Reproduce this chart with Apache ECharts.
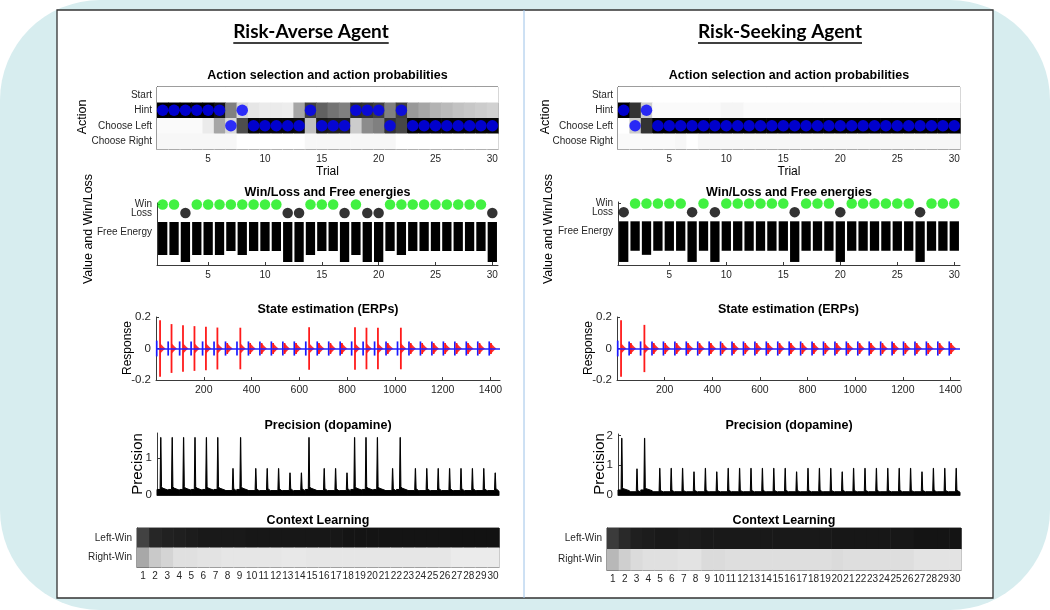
<!DOCTYPE html>
<html><head><meta charset="utf-8">
<script src="https://cdn.jsdelivr.net/npm/echarts@6/dist/echarts.min.js"></script>
<style>html,body{margin:0;padding:0;background:#fff}#c{width:1050px;height:610px}</style>
</head><body><div id="c"></div><script>
// ---------------- DATA ----------------
const trials = [1,2,3,4,5,6,7,8,9,10,11,12,13,14,15,16,17,18,19,20,21,22,23,24,25,26,27,28,29,30];
const trialTicks = [5,10,15,20,25,30];
const sampleTicks = [200,400,600,800,1000,1200,1400];
const erpTicks = [-0.2,0,0.2];
const actionNames = ['Start','Hint','Choose Left','Choose Right'];
const outcomeNames = ['Win','Loss','Free Energy'];
const contextNames = ['Left-Win','Right-Win'];
const samplesPerTrial = 48;
const sampleCount = 1440;
const blueLag = 3;

// Risk-averse agent
const averseStart = [0,0,0,0,0,0,0,0,0,0,0,0,0,0,0,0,0,0,0,0,0,0,0,0,0,0,0,0,0,0];
const averseHint  = [1,1,1,1,1,0.92,0.5,0.15,0.1,0.08,0.08,0.07,0.35,0.75,0.62,0.55,0.5,0.82,0.8,0.75,0.5,0.75,0.4,0.35,0.3,0.27,0.24,0.22,0.2,0.18];
const averseLeft  = [0.02,0.02,0.02,0.02,0.08,0.35,0.15,0.7,0.97,0.97,0.97,0.97,0.95,0.25,0.9,0.88,0.88,0.2,0.45,0.5,0.8,0.72,0.98,0.98,0.98,0.98,0.98,0.98,0.98,0.98];
const averseRight = [0.03,0.03,0.03,0.03,0.03,0.03,0.03,0,0,0,0,0,0,0.03,0.03,0.03,0.03,0.03,0.03,0.03,0.03,0,0,0,0,0,0,0,0,0];
const averseChoice = ['Hint','Hint','Hint','Hint','Hint','Hint','Choose Left','Hint','Choose Left','Choose Left','Choose Left','Choose Left','Choose Left','Hint','Choose Left','Choose Left','Choose Left','Hint','Hint','Hint','Choose Left','Hint','Choose Left','Choose Left','Choose Left','Choose Left','Choose Left','Choose Left','Choose Left','Choose Left'];
const averseOutcome = ['Win','Win','Loss','Win','Win','Win','Win','Win','Win','Win','Win','Loss','Loss','Win','Win','Win','Loss','Win','Loss','Loss','Win','Win','Win','Win','Win','Win','Win','Win','Win','Loss'];
const averseFreeEnergy = [-3.3,-3.3,-4.0,-3.3,-3.3,-3.3,-2.9,-3.3,-2.9,-2.9,-2.9,-4.0,-4.0,-3.3,-2.9,-2.9,-4.0,-3.3,-4.0,-4.0,-2.9,-3.3,-2.9,-2.9,-2.9,-2.9,-2.9,-2.9,-2.9,-4.0];
const averseErpBlue = [0.05,0.045,0.045,0.045,0.045,0.045,0.045,0.045,0.045,0.045,0.045,0.045,0.045,0.045,0.045,0.045,0.045,0.045,0.045,0.045,0.045,0.045,0.045,0.045,0.045,0.045,0.045,0.045,0.045,0.045];
const averseErpRedTime = [17,65,113,161,209,257,298,353,394,442,490,538,586,641,682,730,778,833,881,929,970,1025,1066,1114,1162,1210,1258,1306,1354,1402];
const averseErpRed = [0.18,0.155,0.148,0.142,0.138,0.133,0.035,0.132,0.035,0.035,0.035,0.035,0.035,0.135,0.035,0.035,0.035,0.135,0.132,0.132,0.035,0.132,0.035,0.035,0.035,0.035,0.035,0.035,0.035,0.035];
const averseErpRipple = [0.035,0.035,0.035,0.035,0.035,0.035,0.035,0.035,0.035,0.035,0.035,0.035,0.035,0.035,0.035,0.035,0.035,0.035,0.035,0.035,0.035,0.035,0.035,0.035,0.035,0.035,0.035,0.035,0.035,0.035];
const aversePrecTime = [16,64,112,160,208,256,320,352,416,464,512,560,608,640,704,752,800,832,880,928,992,1024,1088,1136,1184,1232,1280,1328,1376,1424];
const aversePrec = [1.56,1.56,1.56,1.56,1.56,1.56,0.72,1.56,0.72,0.72,0.72,0.6,0.6,1.56,0.72,0.72,0.6,1.56,1.56,1.56,0.72,1.56,0.72,0.72,0.72,0.72,0.72,0.72,0.72,0.6];
const aversePrecFloor = [0.15,0.15,0.15,0.15,0.15,0.15,0.12,0.15,0.12,0.12,0.12,0.12,0.12,0.15,0.12,0.12,0.12,0.15,0.15,0.15,0.12,0.15,0.12,0.12,0.12,0.12,0.12,0.12,0.12,0.12];
const averseCtxLeft  = [0.74,0.85,0.87,0.88,0.89,0.9,0.9,0.9,0.9,0.91,0.91,0.91,0.91,0.91,0.91,0.91,0.91,0.92,0.92,0.92,0.92,0.92,0.92,0.92,0.92,0.92,0.93,0.93,0.93,0.93];
const averseCtxRight = [0.34,0.21,0.17,0.12,0.12,0.11,0.11,0.1,0.1,0.1,0.1,0.1,0.09,0.09,0.1,0.1,0.1,0.1,0.1,0.1,0.1,0.1,0.1,0.1,0.1,0.1,0.08,0.08,0.08,0.08];

// Risk-seeking agent
const seekingStart = [0,0,0,0,0,0,0,0,0,0,0,0,0,0,0,0,0,0,0,0,0,0,0,0,0,0,0,0,0,0];
const seekingHint  = [1,0.8,0.2,0.02,0.02,0.02,0.02,0.02,0.02,0.04,0.04,0.02,0.02,0.02,0.02,0.02,0.02,0.02,0.02,0.02,0.02,0.02,0.02,0.02,0.02,0.02,0.02,0.02,0.02,0.02];
const seekingLeft  = [0,0.2,0.8,1,1,1,1,1,1,1,1,1,1,1,1,1,1,1,1,1,1,1,1,1,1,1,1,1,1,1];
const seekingRight = [0.02,0.02,0.02,0.02,0.02,0.03,0,0.03,0.03,0.03,0.03,0.03,0.03,0.03,0.03,0.03,0.03,0.03,0.03,0.03,0.03,0.03,0.03,0.03,0.03,0.03,0.03,0.03,0.03,0.03];
const seekingChoice = ['Hint','Choose Left','Hint','Choose Left','Choose Left','Choose Left','Choose Left','Choose Left','Choose Left','Choose Left','Choose Left','Choose Left','Choose Left','Choose Left','Choose Left','Choose Left','Choose Left','Choose Left','Choose Left','Choose Left','Choose Left','Choose Left','Choose Left','Choose Left','Choose Left','Choose Left','Choose Left','Choose Left','Choose Left','Choose Left'];
const seekingOutcome = ['Loss','Win','Win','Win','Win','Win','Loss','Win','Loss','Win','Win','Win','Win','Win','Win','Loss','Win','Win','Win','Loss','Win','Win','Win','Win','Win','Win','Loss','Win','Win','Win'];
const seekingFreeEnergy = [-4.0,-2.9,-3.3,-2.9,-2.9,-2.9,-4.0,-2.9,-4.0,-2.9,-2.9,-2.9,-2.9,-2.9,-2.9,-4.0,-2.9,-2.9,-2.9,-4.0,-2.9,-2.9,-2.9,-2.9,-2.9,-2.9,-4.0,-2.9,-2.9,-2.9];
const seekingErpBlue = [0.05,0.045,0.045,0.045,0.045,0.045,0.045,0.045,0.045,0.045,0.045,0.045,0.045,0.045,0.045,0.045,0.045,0.045,0.045,0.045,0.045,0.045,0.045,0.045,0.045,0.045,0.045,0.045,0.045,0.045];
const seekingErpRedTime = [17,58,115,154,202,250,298,346,394,442,490,538,586,634,682,730,778,826,874,922,970,1018,1066,1114,1162,1210,1258,1306,1354,1402];
const seekingErpRed = [0.18,0.035,0.15,0.035,0.035,0.035,0.035,0.035,0.035,0.035,0.035,0.035,0.035,0.035,0.035,0.035,0.035,0.035,0.035,0.035,0.035,0.035,0.035,0.035,0.035,0.035,0.035,0.035,0.035,0.035];
const seekingErpRipple = [0.035,0.035,0.035,0.035,0.035,0.035,0.035,0.035,0.035,0.035,0.035,0.035,0.035,0.035,0.035,0.035,0.035,0.035,0.035,0.035,0.035,0.035,0.035,0.035,0.035,0.035,0.035,0.035,0.035,0.035];
const seekingPrecTime = [16,80,112,176,224,272,320,368,416,464,512,560,608,656,704,752,800,848,896,944,992,1040,1088,1136,1184,1232,1280,1328,1376,1424];
const seekingPrec = [1.91,0.88,1.91,0.9,0.9,0.9,0.78,0.9,0.78,0.9,0.9,0.9,0.9,0.9,0.9,0.78,0.9,0.9,0.9,0.78,0.9,0.9,0.9,0.9,0.9,0.9,0.78,0.9,0.9,0.9];
const seekingPrecFloor = [0.17,0.11,0.17,0.11,0.11,0.11,0.11,0.11,0.11,0.11,0.11,0.11,0.11,0.11,0.11,0.11,0.11,0.11,0.11,0.11,0.11,0.11,0.11,0.11,0.11,0.11,0.11,0.11,0.11,0.11];
const seekingCtxLeft  = [0.77,0.84,0.88,0.89,0.9,0.9,0.89,0.89,0.9,0.9,0.9,0.9,0.9,0.9,0.9,0.9,0.9,0.9,0.9,0.91,0.91,0.91,0.91,0.91,0.91,0.91,0.92,0.92,0.92,0.92];
const seekingCtxRight = [0.28,0.19,0.14,0.12,0.12,0.12,0.11,0.11,0.14,0.14,0.13,0.13,0.13,0.13,0.13,0.13,0.13,0.13,0.13,0.14,0.13,0.13,0.13,0.13,0.13,0.13,0.11,0.11,0.11,0.11];

// ---------------- LAYOUT / STYLE ----------------
const FONT = "'Liberation Sans',Arial,Helvetica,sans-serif";
const AXC = '#3a3a3a', TXT = '#262626';
const wlPos = {'Win':1.75, 'Loss':0.9, 'Free Energy':-1.0};
const layouts = [
  {title:'Risk-Averse Agent', titleX:311,
   action:{left:157,top:87,width:341,height:62}, wl:{left:157,top:203,width:341,height:62},
   erp:{left:156,top:317,width:344,height:63}, prec:{left:157,top:433,width:342,height:62},
   ctx:{left:137,top:528,width:362,height:39}, precMax:1.68, precTicks:[0,1],
   lab:{action:83, wl:89, erp:128, prec:138}},
  {title:'Risk-Seeking Agent', titleX:780,
   action:{left:618,top:87,width:342,height:62}, wl:{left:618,top:202,width:342,height:63},
   erp:{left:617,top:317,width:343,height:63}, prec:{left:618,top:434,width:342,height:61},
   ctx:{left:607,top:528,width:354,height:42}, precMax:2.05, precTicks:[0,1,2],
   lab:{action:546, wl:549, erp:589, prec:600}}
];
const agents = [
  {start:averseStart, hint:averseHint, left:averseLeft, right:averseRight, choice:averseChoice, outcome:averseOutcome,
   fe:averseFreeEnergy, blue:averseErpBlue, redT:averseErpRedTime, red:averseErpRed, rip:averseErpRipple,
   precT:aversePrecTime, prec:aversePrec, precF:aversePrecFloor, ctxL:averseCtxLeft, ctxR:averseCtxRight},
  {start:seekingStart, hint:seekingHint, left:seekingLeft, right:seekingRight, choice:seekingChoice, outcome:seekingOutcome,
   fe:seekingFreeEnergy, blue:seekingErpBlue, redT:seekingErpRedTime, red:seekingErpRed, rip:seekingErpRipple,
   precT:seekingPrecTime, prec:seekingPrec, precF:seekingPrecFloor, ctxL:seekingCtxLeft, ctxR:seekingCtxRight}
];

// ---------------- BUILD ----------------
const grids=[], xAxes=[], yAxes=[], series=[], graphics=[];
function grayOf(p){ const v=Math.round(255*(1-p)); return 'rgb('+v+','+v+','+v+')'; }
function addGrid(r, box){ grids.push({left:r.left, top:r.top, width:r.width, height:r.height, show:!!box, borderColor:AXC, borderWidth:1, backgroundColor:'rgba(0,0,0,0)', outerBoundsMode:'none'}); return grids.length-1; }
function tick(vals, show){ const t={show:show!==false, inside:true, length:3, lineStyle:{color:AXC,width:1}}; if(vals) t.customValues=vals; return t; }
function lab(vals, extra){ const l=Object.assign({show:true, color:TXT, fontFamily:FONT, fontSize:10, margin:5, hideOverlap:false, showMinLabel:true, showMaxLabel:true, formatter:function(v){ return String(v); }}, extra||{}); if(vals) l.customValues=vals; return l; }
function axLine(show){ return {show:show!==false, onZero:false, lineStyle:{color:AXC,width:1}}; }
function addX(a){ xAxes.push(Object.assign({type:'value', splitLine:{show:false}}, a)); return xAxes.length-1; }
function addY(a){ yAxes.push(Object.assign({type:'value', splitLine:{show:false}}, a)); return yAxes.length-1; }
function text(x,y,str,font,opts){ graphics.push(Object.assign({type:'text', x:x, y:y, z:100, silent:true,
  style:{text:str, font:font, fill:'#000', textAlign:'center', textVerticalAlign:'middle', align:'center', verticalAlign:'middle'}}, opts||{})); }
// MATLAB-style box: mirror ticks on the top / right edges
function boxTicksX(g, min, max, vals){ addX({gridIndex:g, position:'top', min:min, max:max, axisLine:axLine(false), axisTick:tick(vals), axisLabel:{show:false}}); }
function boxTicksY(g, cats){ addY({type:'category', gridIndex:g, position:'right', data:cats, inverse:true, axisLine:axLine(false),
  axisTick:{show:true, inside:true, length:3, alignWithLabel:true, lineStyle:{color:AXC}}, axisLabel:{show:false}}); }

function heatRender(params, api){
  const c=api.coord([api.value(0), api.value(1)]); const s=api.size([1,1]);
  return {type:'rect', shape:{x:c[0]-s[0]/2, y:c[1]-s[1]/2, width:s[0]+0.6, height:s[1]+0.6}, style:{fill:grayOf(api.value(2))}};
}
function erpRender(params, api){
  const t0=api.value(0), b=api.value(1), tr=api.value(2), r=api.value(3), rip=api.value(4);
  const ch=[];
  const b1=api.coord([t0+blueLag, b]), b2=api.coord([t0+blueLag, -b]);
  ch.push({type:'line', shape:{x1:b1[0],y1:b1[1],x2:b2[0],y2:b2[1]}, style:{stroke:'#1a1aff', lineWidth:1.7}});
  const top=[], bot=[];
  for(let k=0;k<=26;k+=2){ const a=rip*Math.pow(1-k/26,1.5); top.push(api.coord([tr+k, a])); bot.unshift(api.coord([tr+k, -a])); }
  ch.push({type:'polygon', shape:{points:top.concat(bot)}, style:{fill:'rgba(255,25,25,0.9)'}});
  const r1=api.coord([tr, r]), r2=api.coord([tr, -r]);
  ch.push({type:'line', shape:{x1:r1[0],y1:r1[1],x2:r2[0],y2:r2[1]}, style:{stroke:'#ff1a1a', lineWidth:1.8}});
  return {type:'group', children:ch};
}
function precRender(params, api){
  const t0=api.value(0), ts=api.value(1), h=api.value(2), fl=api.value(3), span=api.value(4);
  const pts=[[t0,0],[t0,fl],[ts-3,fl],[ts-0.5,h],[ts+0.5,h],[ts+3,fl*1.5],[ts+7,fl*1.25],[t0+span,fl*0.85],[t0+span,0]].map(function(p){return api.coord(p);});
  return {type:'polygon', shape:{points:pts}, style:{fill:'#000', stroke:'#000', lineWidth:1}};
}

layouts.forEach(function(L, ai){
  const A = agents[ai];
  const small = 'bold 12.5px ' + FONT;
  // ---- Action selection ----
  let g = addGrid(L.action, true);
  let xi = addX({gridIndex:g, min:0.5, max:30.5, axisLine:axLine(), axisTick:tick(trialTicks), axisLabel:lab(trialTicks)});
  let yi = addY({type:'category', gridIndex:g, data:actionNames, inverse:true, axisLine:axLine(),
    axisTick:{show:true, inside:true, length:3, alignWithLabel:true, lineStyle:{color:AXC}}, axisLabel:lab(null,{interval:0, formatter:null})});
  boxTicksX(g, 0.5, 30.5, trialTicks); boxTicksY(g, actionNames);
  const rows=[A.start, A.hint, A.left, A.right], heat=[];
  rows.forEach(function(row, ri){ row.forEach(function(p, i){ heat.push([trials[i], ri, p]); }); });
  series.push({type:'custom', xAxisIndex:xi, yAxisIndex:yi, renderItem:heatRender, data:heat, silent:true, z:1});
  series.push({type:'scatter', xAxisIndex:xi, yAxisIndex:yi, symbolSize:11.5, itemStyle:{color:'#0000ff'}, z:3, silent:true,
    data:A.choice.map(function(c,i){ return [trials[i], actionNames.indexOf(c)]; })});
  text(L.action.left+L.action.width/2, 76, 'Action selection and action probabilities', small);
  text(L.action.left+L.action.width/2, 172, 'Trial', '12px '+FONT);
  text(L.lab.action, 117, 'Action', '12.5px '+FONT, {rotation:Math.PI/2});

  // ---- Win/Loss and free energies ----
  g = addGrid(L.wl, false);
  xi = addX({gridIndex:g, min:0.5, max:30.5, axisLine:axLine(), axisTick:tick(trialTicks), axisLabel:lab(trialTicks)});
  const nameAt = function(v){ let best=outcomeNames[0]; outcomeNames.forEach(function(n){ if(Math.abs(wlPos[n]-v)<Math.abs(wlPos[best]-v)) best=n; }); return best; };
  yi = addY({gridIndex:g, position:'left', min:-4.3, max:1.9, axisLine:axLine(), axisTick:tick([wlPos.Win]),
    axisLabel:lab(outcomeNames.slice(1).map(function(n){ return wlPos[n]; }), {formatter:nameAt})});
  addY({gridIndex:g, position:'left', offset:0, min:-4.3, max:1.9, axisLine:axLine(false), axisTick:tick(null,false),
    axisLabel:lab([wlPos.Win], {formatter:nameAt})});
  series.push({type:'bar', xAxisIndex:xi, yAxisIndex:yi, barWidth:9.3, itemStyle:{color:'#000'}, silent:true, z:2,
    data:A.fe.map(function(v,i){ return [trials[i], v]; })});
  series.push({type:'scatter', xAxisIndex:xi, yAxisIndex:yi, symbolSize:10.5, silent:true, z:3,
    data:A.outcome.map(function(o,i){ return {value:[trials[i], wlPos[o]], itemStyle:{color:o==='Win'?'#12ee12':'#000'}}; })});
  text(L.wl.left+L.wl.width/2, 193, 'Win/Loss and Free energies', small);
  text(L.lab.wl, 229, 'Value and Win/Loss', '12.5px '+FONT, {rotation:Math.PI/2});

  // ---- ERPs ----
  g = addGrid(L.erp, false);
  xi = addX({gridIndex:g, min:0, max:sampleCount, axisLine:axLine(), axisTick:tick(sampleTicks), axisLabel:lab(sampleTicks, {fontSize:10.5})});
  yi = addY({gridIndex:g, min:-0.2, max:0.2, axisLine:axLine(), axisTick:tick(erpTicks), axisLabel:lab(erpTicks, {fontSize:11.5})});
  series.push({type:'custom', xAxisIndex:xi, yAxisIndex:yi, renderItem:erpRender, silent:true, z:3,
    data:trials.map(function(t,i){ return [(t-1)*samplesPerTrial, A.blue[i], A.redT[i], A.red[i], A.rip[i]]; }),
    markLine:{silent:true, symbol:'none', label:{show:false}, lineStyle:{color:'#2020ff', width:1.5, type:'solid'}, data:[{yAxis:0}]}});
  text(L.erp.left+L.erp.width/2, 310, 'State estimation (ERPs)', small);
  text(L.lab.erp, 348, 'Response', '12px '+FONT, {rotation:Math.PI/2});

  // ---- Precision ----
  g = addGrid(L.prec, false);
  xi = addX({gridIndex:g, min:0, max:sampleCount, axisLine:axLine(), axisTick:tick(null,false), axisLabel:{show:false}});
  yi = addY({gridIndex:g, min:0, max:L.precMax, axisLine:axLine(), axisTick:tick(L.precTicks), axisLabel:lab(L.precTicks, {fontSize:11.5})});
  series.push({type:'custom', xAxisIndex:xi, yAxisIndex:yi, renderItem:precRender, silent:true, z:3,
    data:trials.map(function(t,i){ return [(t-1)*samplesPerTrial, A.precT[i], A.prec[i], A.precF[i], samplesPerTrial]; })});
  text(L.prec.left+L.prec.width/2, 426, 'Precision (dopamine)', small);
  text(L.lab.prec, 464, 'Precision', '15px '+FONT, {rotation:Math.PI/2});

  // ---- Context learning ----
  g = addGrid(L.ctx, true);
  xi = addX({gridIndex:g, min:0.5, max:30.5, axisLine:axLine(), axisTick:tick(trials), axisLabel:lab(trials, {fontSize:10, margin:4})});
  yi = addY({type:'category', gridIndex:g, data:contextNames, inverse:true, axisLine:axLine(),
    axisTick:{show:true, inside:true, length:3, alignWithLabel:true, lineStyle:{color:AXC}}, axisLabel:lab(null,{interval:0, formatter:null})});
  boxTicksX(g, 0.5, 30.5, trials); boxTicksY(g, contextNames);
  const cheat=[];
  [A.ctxL, A.ctxR].forEach(function(row, ri){ row.forEach(function(p,i){ cheat.push([trials[i], ri, p]); }); });
  series.push({type:'custom', xAxisIndex:xi, yAxisIndex:yi, renderItem:heatRender, data:cheat, silent:true, z:1});
  text(L.ctx.left+L.ctx.width/2, 521, 'Context Learning', small);

  // ---- agent title ----
  const tf = 'bold 19px Lato, "Open Sans", sans-serif';
  text(L.titleX, 32, L.title, tf);
  const cv=document.createElement('canvas').getContext('2d'); cv.font=tf;
  const w=cv.measureText(L.title).width;
  graphics.push({type:'line', z:100, silent:true, shape:{x1:L.titleX-w/2, y1:43, x2:L.titleX+w/2, y2:43}, style:{stroke:'#000', lineWidth:1.3}});
});

// frame
graphics.unshift(
  {type:'rect', z:-20, silent:true, shape:{x:0,y:0,width:1050,height:610,r:100}, style:{fill:'#d7edef'}},
  {type:'rect', z:-19, silent:true, shape:{x:57,y:10,width:936,height:588}, style:{fill:'#fff', stroke:'#333', lineWidth:1.3}},
  {type:'line', z:-18, silent:true, shape:{x1:524,y1:10,x2:524,y2:598}, style:{stroke:'#9cc2e8', lineWidth:1}}
);

const chart = echarts.init(document.getElementById('c'), null, {renderer:'canvas'});
chart.setOption({animation:false, backgroundColor:'#fff', grid:grids, xAxis:xAxes, yAxis:yAxes, series:series, graphic:graphics});
</script></body></html>
